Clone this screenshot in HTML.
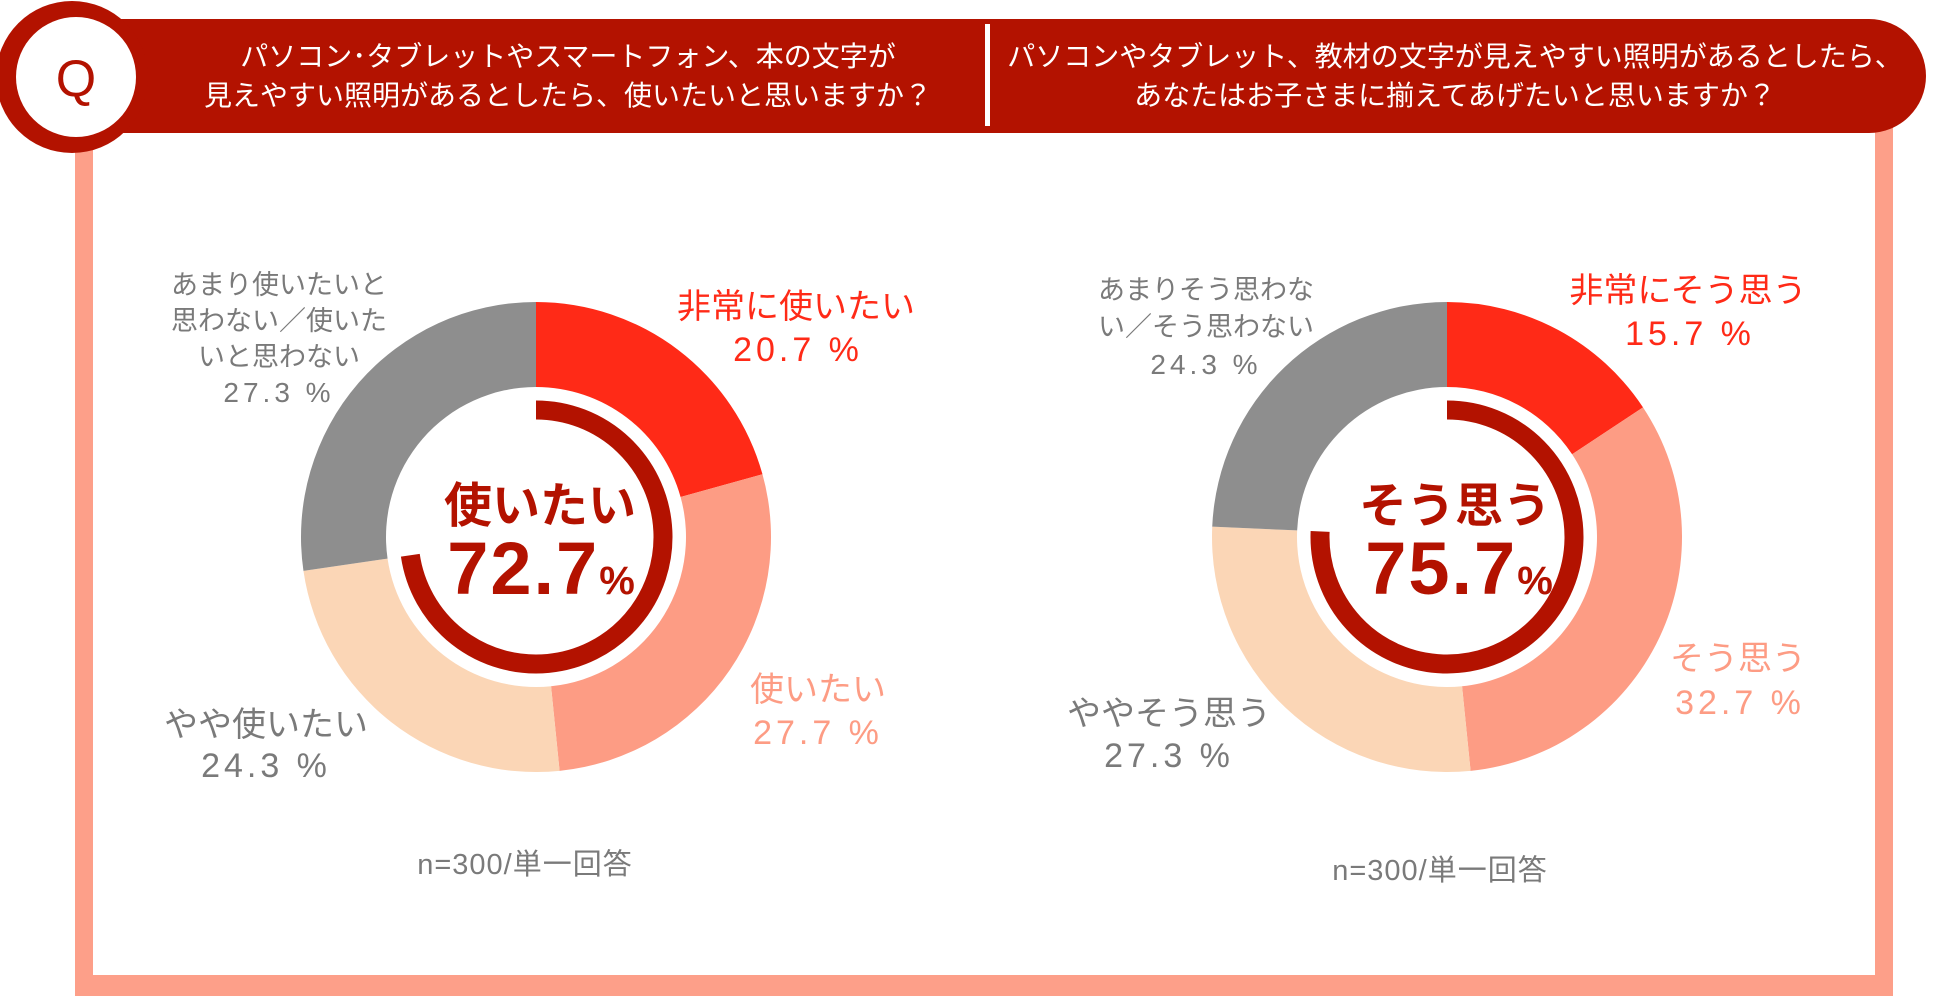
<!DOCTYPE html>
<html><head><meta charset="utf-8"><style>
html,body{margin:0;padding:0;background:#fff;}
body{width:1950px;height:996px;overflow:hidden;font-family:"Liberation Sans","Noto Sans CJK JP",sans-serif;}
</style></head><body>
<svg id="c" width="1950" height="996" viewBox="0 0 1950 996" xmlns="http://www.w3.org/2000/svg" font-family="'Liberation Sans','Noto Sans CJK JP',sans-serif">
<rect x="75" y="100" width="18" height="896" fill="#fd9f89"/>
<rect x="1875" y="100" width="18" height="896" fill="#fd9f89"/>
<rect x="75" y="975" width="1818" height="21" fill="#fd9f89"/>
<rect x="60" y="19" width="1866" height="114" rx="57" fill="#b31200"/>
<circle cx="72" cy="77" r="76" fill="#b31200"/>
<circle cx="76" cy="77" r="60" fill="#fff"/>
<text x="76" y="96" text-anchor="middle" font-size="52" fill="#b31200">Q</text>
<rect x="985" y="24" width="5" height="102" fill="#fff"/>
<g fill="#fff" font-size="28" text-anchor="middle">
<text x="568" y="66">パソコン･タブレットやスマートフォン、本の文字が</text>
<text x="568" y="105">見えやすい照明があるとしたら、使いたいと思いますか？</text></g>
<g fill="#fff" font-size="28" text-anchor="middle">
<text x="1455" y="66">パソコンやタブレット、教材の文字が見えやすい照明があるとしたら、</text>
<text x="1455" y="105">あなたはお子さまに揃えてあげたいと思いますか？</text></g>
<g id="g1"></g><g id="g2"></g>
</svg>
<script>
const valuesLeft = [20.7, 27.7, 24.3, 27.3];
const valuesRight = [15.7, 32.7, 27.3, 24.3];
const categoriesLeft = ['非常に使いたい','使いたい','やや使いたい','あまり使いたいと思わない／使いたいと思わない'];
const categoriesRight = ['非常にそう思う','そう思う','ややそう思う','あまりそう思わない／そう思わない'];
const totalLeft = [72.7];
const totalRight = [75.7];
const colors = ['#ff2a17','#fd9c84','#fbd6b6','#8e8e8e'];
const NS='http://www.w3.org/2000/svg';
function pt(cx,cy,r,f){const a=f*2*Math.PI;return [cx+r*Math.sin(a),cy-r*Math.cos(a)];}
function donut(g,cx,cy,vals,total,names){
  let acc=0;const sum=vals.reduce((a,b)=>a+b,0);
  vals.forEach((v,i)=>{
    const f0=acc/sum,f1=(acc+v)/sum;acc+=v;
    const R=235,r=150;
    const [x0,y0]=pt(cx,cy,R,f0),[x1,y1]=pt(cx,cy,R,f1),[x2,y2]=pt(cx,cy,r,f1),[x3,y3]=pt(cx,cy,r,f0);
    const lg=(f1-f0)>0.5?1:0;
    const p=document.createElementNS(NS,'path');
    p.setAttribute('d',`M${x0},${y0}A${R},${R} 0 ${lg} 1 ${x1},${y1}L${x2},${y2}A${r},${r} 0 ${lg} 0 ${x3},${y3}Z`);
    p.setAttribute('fill',colors[i]);
    
    
    g.appendChild(p);
  });
  const t=total[0]/100;const ar=127;
  const [a0x,a0y]=pt(cx,cy,ar,0),[a1x,a1y]=pt(cx,cy,ar,t);
  const arc=document.createElementNS(NS,'path');
  arc.setAttribute('d',`M${a0x},${a0y}A${ar},${ar} 0 ${t>0.5?1:0} 1 ${a1x},${a1y}`);
  arc.setAttribute('fill','none');arc.setAttribute('stroke','#b31200');arc.setAttribute('stroke-width','19');
  
  
  g.appendChild(arc);
}
function txt(g,x,y,s,size,color,name,weight,ls){
  const e=document.createElementNS(NS,'text');
  e.setAttribute('x',x);e.setAttribute('y',y);e.setAttribute('font-size',size);e.setAttribute('fill',color);
  e.setAttribute('text-anchor','middle');if(weight)e.setAttribute('font-weight',weight);
  if(ls)e.setAttribute('letter-spacing',ls);
  e.innerHTML=s;
  
  
  g.appendChild(e);return e;
}
const g1=document.getElementById('g1'),g2=document.getElementById('g2');
donut(g1,536,537,valuesLeft,totalLeft,['very','want','somewhat','not']);
donut(g2,1447,537,valuesRight,totalRight,['very','agree','somewhat','not']);
const fmt=v=>v.toFixed(1)+' %';
txt(g1,540,522,'使いたい',48,'#b31200','center-label','bold');
txt(g1,542,594,totalLeft[0].toFixed(1)+'<tspan font-size="40">%</tspan>',74,'#b31200','center-value','bold',2);
txt(g1,796,318,categoriesLeft[0],34,'#ff2a17','label-very');
txt(g1,798,361,fmt(valuesLeft[0]),34,'#ff2a17','value-very',null,4);
txt(g1,818,701,categoriesLeft[1],34,'#fd9c84','label-want');
txt(g1,818,744,fmt(valuesLeft[1]),34,'#fd9c84','value-want',null,4);
txt(g1,266,736,categoriesLeft[2],34,'#7a7a7a','label-somewhat');
txt(g1,266,777,fmt(valuesLeft[2]),34,'#7a7a7a','value-somewhat',null,4);
['あまり使いたいと','思わない／使いた','いと思わない'].forEach((s,i)=>txt(g1,279,294+i*36,s,27,'#7a7a7a','label-not'));
txt(g1,279,402,fmt(valuesLeft[3]),28,'#7a7a7a','value-not',null,4);
txt(g1,525,874,'n=300/単一回答',29,'#7a7a7a','sample-note',null,1);
txt(g2,1455,522,'そう思う',48,'#b31200','center-label','bold');
txt(g2,1460,594,totalRight[0].toFixed(1)+'<tspan font-size="40">%</tspan>',74,'#b31200','center-value','bold',2);
txt(g2,1688,302,categoriesRight[0],34,'#ff2a17','label-very');
txt(g2,1690,345,fmt(valuesRight[0]),34,'#ff2a17','value-very',null,4);
txt(g2,1738,670,categoriesRight[1],34,'#fd9c84','label-agree');
txt(g2,1740,714,fmt(valuesRight[1]),34,'#fd9c84','value-agree',null,4);
txt(g2,1169,725,categoriesRight[2],34,'#7a7a7a','label-somewhat');
txt(g2,1169,767,fmt(valuesRight[2]),34,'#7a7a7a','value-somewhat',null,4);
['あまりそう思わな','い／そう思わない'].forEach((s,i)=>txt(g2,1206,299+i*37,s,27,'#7a7a7a','label-not'));
txt(g2,1206,374,fmt(valuesRight[3]),28,'#7a7a7a','value-not',null,4);
txt(g2,1440,880,'n=300/単一回答',29,'#7a7a7a','sample-note',null,1);
</script>
</body></html>
